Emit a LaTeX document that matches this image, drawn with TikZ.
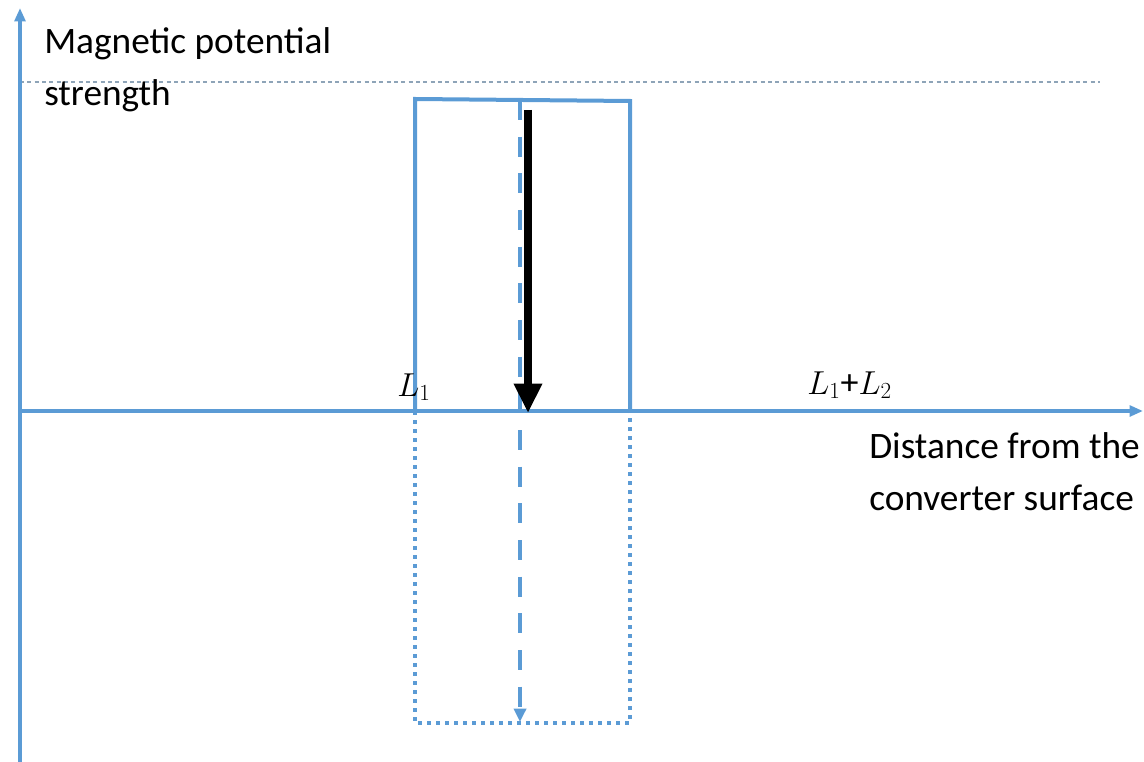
\documentclass[tikz,border=0pt]{standalone}
\usepackage{fontspec}
\setmainfont{Carlito}
\usetikzlibrary{arrows.meta}
\definecolor{ablue}{HTML}{5B9BD5}
\definecolor{dgray}{HTML}{8EA4B8}
\tikzset{
  axis/.style={draw=ablue, line width=3pt, -{Triangle[length=10pt,width=8pt]}},
  bar/.style={draw=ablue, line width=3pt},
  bardot/.style={draw=ablue, line width=3pt, dash pattern=on 3pt off 3.75pt},
  center/.style={draw=ablue, line width=3pt, dash pattern=on 15pt off 12.5pt},
  lbl/.style={font=\fontsize{28}{39}\selectfont, align=left, inner sep=0pt},
  mlbl/.style={font=\fontsize{27}{30}\selectfont, inner sep=0pt}
}
\begin{document}
\begin{tikzpicture}[x=0.75pt,y=-0.75pt]
\useasboundingbox (0,0) rectangle (1144,762);
% coordinates
\coordinate (o) at (20,411);
\coordinate (ybot) at (20,762);
\coordinate (ytop) at (20,8);
\coordinate (xend) at (1143,411);
\coordinate (gl) at (20,82);
\coordinate (gr) at (1100,82);
\coordinate (tl) at (415,99);
\coordinate (tr) at (630,101);
\coordinate (al) at (415,411);
\coordinate (ar) at (630,411);
\coordinate (bl) at (415,723);
\coordinate (br) at (630,723);
\coordinate (ct) at (520,100);
\coordinate (cb) at (520,722);
\coordinate (kt) at (528,110);
\coordinate (kb) at (528,413);
% reference dashed line
\draw[dgray, line width=0.8pt, dash pattern=on 3pt off 2.5pt] (gl) -- (gr);
% axes
\draw[axis] (ybot) -- (ytop);
\draw[axis] (o) -- (xend);
% bar
\draw[bar] (al) -- (tl) -- (tr) -- (ar);
\draw[bardot] (al) -- (bl) -- (br) -- (ar);
% centre dashed arrow
\draw[center, -{Triangle[length=10pt,width=9pt]}] (ct) -- (cb);
% black arrow
\draw[black, line width=6pt, -{Triangle[length=22pt,width=20pt]}] (kt) -- (kb);
% labels
\node[lbl, anchor=north west] (ylab) at (44,27) {Magnetic potential\\strength};
\node[lbl, anchor=north west] (xlab) at (869,432) {Distance from the\\converter surface};
\node[mlbl, anchor=base west] (l1) at (397,396) {$L_1$};
\node[mlbl, anchor=base west] (l12) at (807,394) {$L_1$+$L_2$};
\end{tikzpicture}
\end{document}
